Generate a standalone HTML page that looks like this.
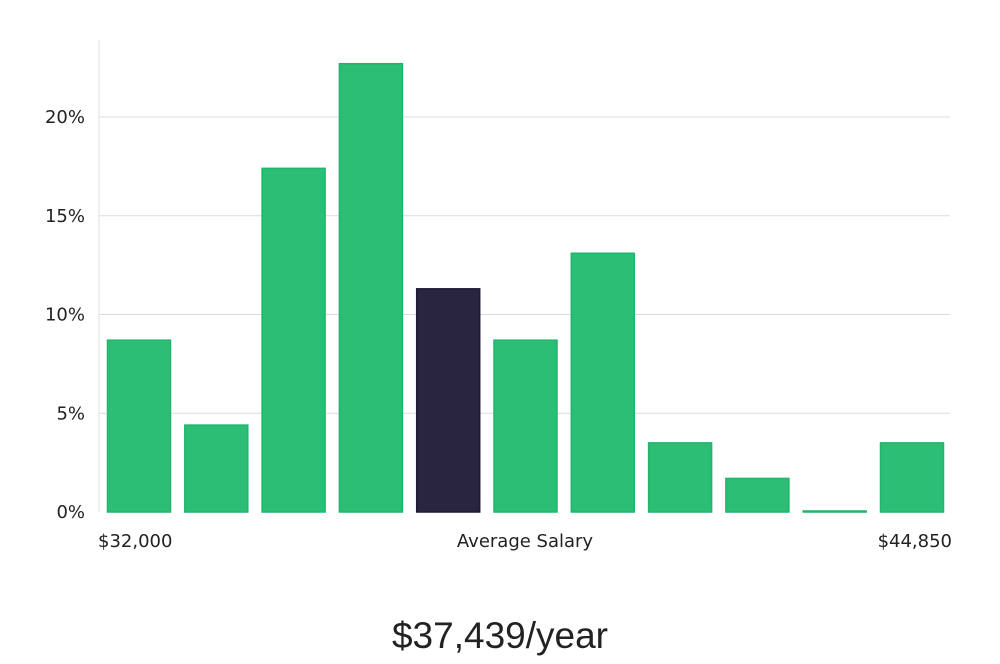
<!DOCTYPE html>
<html><head><meta charset="utf-8"><style>
body{margin:0;background:#fff;width:1000px;height:660px;overflow:hidden;font-family:"DejaVu Sans","Liberation Sans",sans-serif;}
svg text{fill:#222;}
</style></head><body>
<svg id="chart" width="1000" height="660" xmlns="http://www.w3.org/2000/svg"></svg>
<script>
const categories=["b1","b2","b3","b4","b5","b6","b7","b8","b9","b10","b11"];
const values=[8.7,4.4,17.4,22.7,11.3,8.7,13.1,3.5,1.7,0.05,3.5];
const highlightIndex=4;
const yTicks=[0,5,10,15,20];
const yTickLabels=["0%","5%","10%","15%","20%"];
const xLabels=["$32,000","Average Salary","$44,850"];
const title="$37,439/year";

const svg=document.getElementById('chart');
const NS="http://www.w3.org/2000/svg";
const plotL=99,plotR=950,y0=512,pxPerUnit=(512-117)/20;
const yS=v=>y0-v*pxPerUnit;
const firstX=107,step=77.3,bw=63;
const xS=i=>firstX+i*step;
function mk(t,a){const e=document.createElementNS(NS,t);for(const k in a)e.setAttribute(k,a[k]);svg.appendChild(e);return e;}

yTicks.forEach((t,i)=>{
  if(t>0){const g=mk('line',{x1:plotL,x2:plotR,y1:yS(t),y2:yS(t),stroke:'#dcdcdc','stroke-width':1});
  
  }
  const l=mk('text',{x:85,y:yS(t)+6,'text-anchor':'end','font-size':18});
  l.textContent=yTickLabels[i];
  
  
});
const ax=mk('line',{x1:plotL,x2:plotL,y1:40,y2:y0,stroke:'#e0e0e0','stroke-width':1});



values.forEach((v,i)=>{
  const hl=i===highlightIndex;
  const h=Math.max(v*pxPerUnit,1);
  const r=mk('rect',{x:xS(i)+0.5,y:y0-h,width:bw,height:h,fill:hl?'#29243f':'#2bbf76',stroke:hl?'#1c1a33':'#22b46c','stroke-width':1.5});
  
  
});

const xPos=[[98,'start'],[525,'middle'],[952,'end']];
xLabels.forEach((s,i)=>{
  const t=mk('text',{x:xPos[i][0],y:547,'text-anchor':xPos[i][1],'font-size':18});
  t.textContent=s;
  
  
});
const tt=mk('text',{x:500,y:648,'text-anchor':'middle','font-size':37,'font-family':'"Liberation Sans Narrow","Liberation Sans",sans-serif'});
tt.textContent=title;


</script>
</body></html>
